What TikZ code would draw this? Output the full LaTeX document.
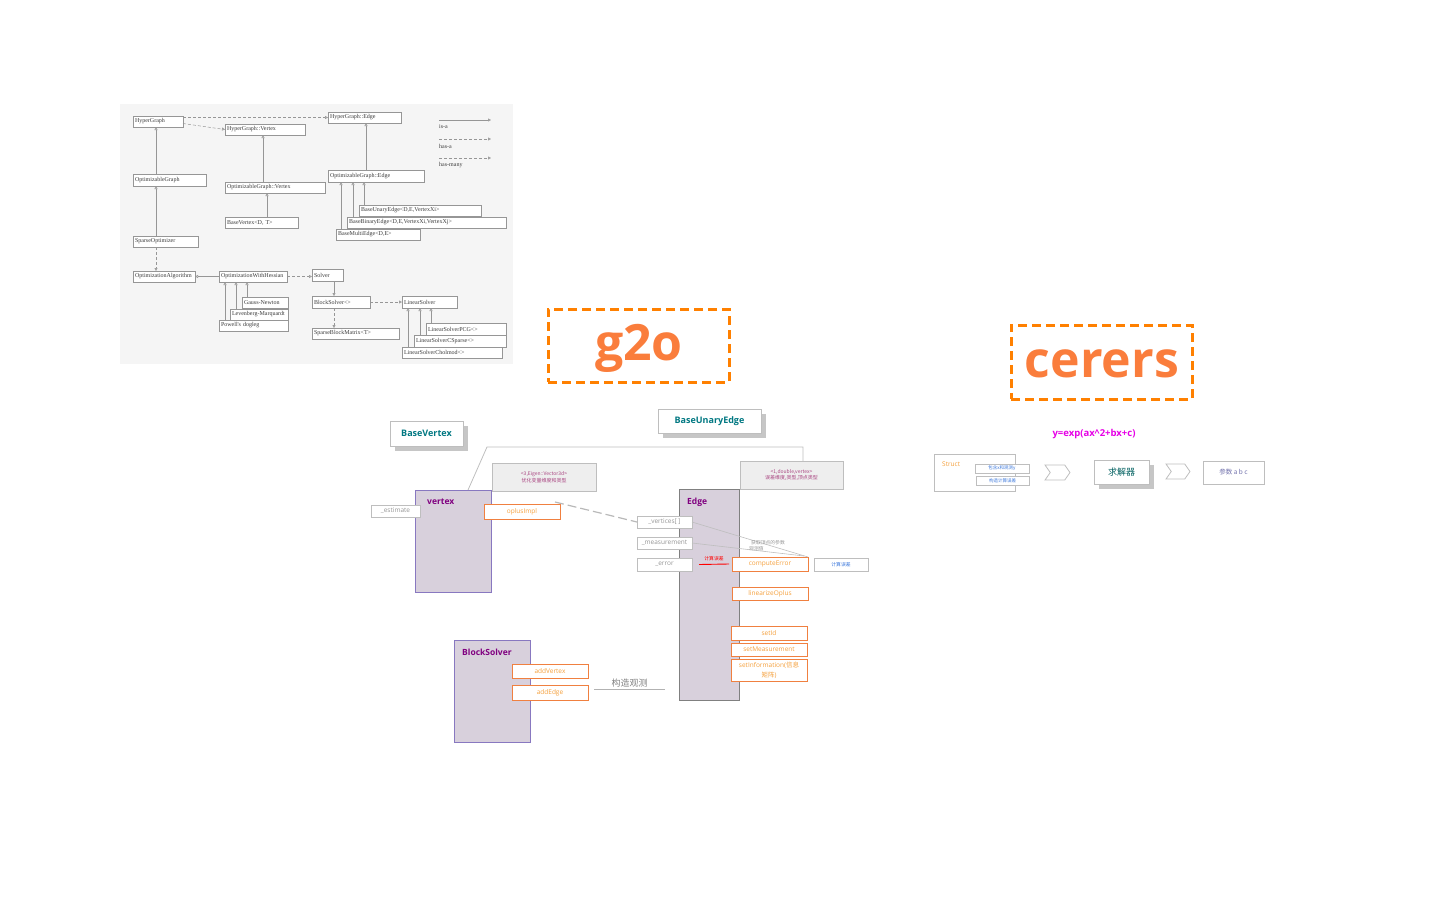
\documentclass[tikz,border=0pt]{standalone}
\usepackage{fontspec}
\setmainfont{Open Sans}
\newfontfamily\cjk{Noto Sans CJK SC}
\newfontfamily\umlf{Liberation Serif}
\usetikzlibrary{arrows.meta,calc,shadows,shapes.symbols}
\definecolor{umlline}{RGB}{150,150,150}
\definecolor{umltext}{RGB}{60,60,60}
\definecolor{umlbg}{RGB}{245,245,245}
\definecolor{dashor}{RGB}{255,128,0}
\definecolor{bigtxt}{RGB}{250,125,60}
\definecolor{tealT}{RGB}{0,120,130}
\definecolor{purpT}{RGB}{128,0,128}
\definecolor{methB}{RGB}{240,128,64}
\definecolor{methT}{RGB}{245,160,60}
\definecolor{clsF}{RGB}{216,208,220}
\definecolor{clsB}{RGB}{136,120,192}
\definecolor{attrT}{RGB}{150,150,150}
\definecolor{attrB}{RGB}{190,190,190}
\definecolor{noteF}{RGB}{238,238,238}
\definecolor{noteT}{RGB}{170,70,130}
\definecolor{magT}{RGB}{230,0,230}
\definecolor{blueT}{RGB}{60,120,220}
\definecolor{parT}{RGB}{110,110,170}
\definecolor{solT}{RGB}{0,96,96}
\newcommand\mkbox[7]{\pgfmathsetmacro\mybw{#5-#3}\pgfmathsetmacro\mybh{#6-#4}%
  \node[#1,minimum width=\mybw pt,minimum height=\mybh pt,anchor=north west,outer sep=0pt] (#2) at (#3,#4) {#7};}
\newcommand\mkuml[6]{\pgfmathsetmacro\mybw{#4-#2-4}\pgfmathsetmacro\mybh{#5-#3}%
  \node[uml,text width=\mybw pt,minimum height=\mybh pt,inner sep=2pt,align=left,anchor=north west,outer sep=0pt] (#1) at (#2,#3) {#6};}
\begin{document}
\begin{tikzpicture}[x=1pt,y=-1pt,
  uml/.style={draw=umlline,fill=white,font=\umlf\fontsize{6}{6.5}\selectfont,text=umltext},
  isa/.style={draw=umlline,line width=0.5pt,-{Triangle[open,length=3pt,width=3pt]}},
  hasa/.style={isa,densely dashed},
  bigbox/.style={draw=dashor,line width=3pt,dash pattern=on 9pt off 5pt},
  bigtext/.style={text=bigtxt,font=\bfseries\fontsize{50}{52}\selectfont},
  shbox/.style={draw=attrB,fill=white,line width=0.8pt,text=tealT,font=\bfseries\fontsize{9}{10}\selectfont,
    drop shadow={shadow xshift=4.5pt,shadow yshift=-4.5pt,fill=gray!45,opacity=1}},
  cls/.style={fill=clsF,draw=clsB,line width=0.8pt},
  clsT/.style={text=purpT,font=\bfseries\fontsize{8.5}{10}\selectfont,inner sep=0pt},
  attr/.style={draw=attrB,fill=white,line width=0.6pt,text=attrT,font=\fontsize{6.5}{7}\selectfont,inner sep=1pt},
  meth/.style={draw=methB,fill=white,line width=0.9pt,text=methT,font=\fontsize{6.5}{7}\selectfont,inner sep=1pt},
  note/.style={draw=attrB,fill=noteF,line width=0.8pt,text=noteT,font=\cjk\fontsize{5}{6.5}\selectfont,align=center,inner sep=1pt},
  tiny/.style={font=\cjk\fontsize{4.8}{6}\selectfont,inner sep=0pt},
  chev/.style={draw=attrB,line width=0.8pt,fill=white,signal,signal from=west,signal to=east,signal pointer angle=110,inner sep=0pt},
  thin/.style={draw=attrB,line width=0.6pt}
]
\useasboundingbox (0,0) rectangle (1452,924);
% ================= UML reference picture =================
\fill[umlbg] (120,104) rectangle (513,364);
\mkuml{hg}{133}{116}{183}{127}{HyperGraph}
\mkuml{hgv}{225}{124}{305}{135}{HyperGraph::Vertex}
\mkuml{hge}{328}{112}{401}{123}{HyperGraph::Edge}
\mkuml{og}{133}{174}{206}{186}{OptimizableGraph}
\mkuml{ogv}{225}{182}{325}{193}{OptimizableGraph::Vertex}
\mkuml{oge}{328}{170}{424}{182}{OptimizableGraph::Edge}
\mkuml{bv}{225}{217}{298}{228}{BaseVertex<D, T>}
\mkuml{bue}{359}{205}{481}{216}{BaseUnaryEdge<D,E,VertexXi>}
\mkuml{bbe}{347}{217}{506}{228}{BaseBinaryEdge<D,E,VertexXi,VertexXj>}
\mkuml{bme}{336}{229}{420}{240}{BaseMultiEdge<D,E>}
\mkuml{so}{133}{236}{198}{247}{SparseOptimizer}
\mkuml{oa}{133}{271}{195}{282}{OptimizationAlgorithm}
\mkuml{owh}{219}{271}{287}{282}{OptimizationWithHessian}
\mkuml{pd}{219}{320}{288}{331}{Powell's dogleg}
\mkuml{lm}{230}{309}{288}{320}{Levenberg-Marquardt}
\mkuml{gn}{242}{297}{288}{308}{Gauss-Newton}
\mkuml{solver}{312}{269}{343}{281}{Solver}
\mkuml{bs}{312}{296}{370}{308}{BlockSolver<>}
\mkuml{sbm}{312}{328}{399}{339}{SparseBlockMatrix<T>}
\mkuml{ls}{402}{296}{457}{308}{LinearSolver}
\mkuml{chol}{402}{347}{502}{358}{LinearSolverCholmod<>}
\mkuml{csp}{414}{335}{506}{347}{LinearSolverCSparse<>}
\mkuml{pcg}{426}{323}{506}{335}{LinearSolverPCG<>}
% legend
\coordinate (l1a) at (439,120); \coordinate (l1b) at (491,120);
\coordinate (l2a) at (439,139); \coordinate (l2b) at (491,139);
\coordinate (l3a) at (439,158); \coordinate (l3b) at (491,158);
\draw[isa] (l1a) -- (l1b);
\draw[hasa] (l2a) -- (l2b);
\draw[hasa] (l3a) -- (l3b);
\node[font=\umlf\fontsize{6}{6.5}\selectfont,text=umltext,anchor=west,inner sep=0pt] (lg1) at (439,127) {is-a};
\node[font=\umlf\fontsize{6}{6.5}\selectfont,text=umltext,anchor=west,inner sep=0pt] (lg2) at (439,146) {has-a};
\node[font=\umlf\fontsize{6}{6.5}\selectfont,text=umltext,anchor=west,inner sep=0pt] (lg3) at (439,165) {has-many};
% uml arrows
\draw[isa] ($(og.north west)+(23,0)$) -- ($(hg.south west)+(23,0)$);
\draw[isa] ($(so.north west)+(23,0)$) -- ($(og.south west)+(23,0)$);
\draw[hasa] ($(so.south west)+(23,0)$) -- ($(oa.north west)+(23,0)$);
\draw[hasa] ($(hg.east)+(0,2)$) -- (hgv.west);
\draw[hasa] (hg.east |- hge.west) -- (hge.west);
\draw[isa] ($(ogv.north west)+(38,0)$) -- ($(hgv.south west)+(38,0)$);
\draw[isa] ($(bv.north west)+(42,0)$) -- ($(ogv.south west)+(42,0)$);
\draw[isa] ($(oge.north west)+(38,0)$) -- ($(hge.south west)+(38,0)$);
\draw[isa] ($(bue.north west)+(5,0)$) -- ($(oge.south west)+(36,0)$);
\draw[isa] ($(bbe.north west)+(6,0)$) -- ($(oge.south west)+(25,0)$);
\draw[isa] ($(bme.north west)+(5,0)$) -- ($(oge.south west)+(13,0)$);
\draw[isa] (owh.west) -- (oa.east);
\draw[isa] ($(gn.north west)+(5,0)$) -- ($(owh.south west)+(28,0)$);
\draw[isa] ($(lm.north west)+(6,0)$) -- ($(owh.south west)+(17,0)$);
\draw[isa] ($(pd.north west)+(6,0)$) -- ($(owh.south west)+(6,0)$);
\draw[hasa] (owh.east) -- (owh.east -| solver.west);
\draw[isa] ($(solver.south west)+(22,0)$) -- ($(bs.north west)+(22,0)$);
\draw[hasa] ($(bs.south west)+(22,0)$) -- ($(sbm.north west)+(22,0)$);
\draw[hasa] (bs.east) -- (ls.west);
\draw[isa] ($(pcg.north west)+(5,0)$) -- ($(ls.south west)+(29,0)$);
\draw[isa] ($(csp.north west)+(6,0)$) -- ($(ls.south west)+(18,0)$);
\draw[isa] ($(chol.north west)+(6,0)$) -- ($(ls.south west)+(6,0)$);
% ================= titles =================
\mkbox{bigbox}{g2obox}{548}{309}{729}{382}{}
\node[bigtext] (g2o) at (639,348) {g2o};
\mkbox{bigbox}{cerbox}{1011}{325}{1192}{399}{}
\node[bigtext] (cerers) at (1102,364) {cerers};
% ================= g2o diagram =================
\mkbox{shbox}{basev}{390}{421}{463}{446}{BaseVertex}
\mkbox{shbox}{baseue}{658}{409}{761}{433}{BaseUnaryEdge}
\mkbox{note}{gv}{492}{463}{596}{491}{<3,Eigen::Vector3d>\\优化变量维度和类型}
\mkbox{note}{ge}{740}{461}{843}{489}{<1,double,vertex>\\误差维度,类型,顶点类型}
\mkbox{cls}{vtx}{415}{490}{491}{592}{}
\node[clsT,anchor=west] (vtxT) at (427,502) {vertex};
\coordinate (bend1) at (487,447);
\coordinate (bend2) at (803,447);
\draw[thin,line width=0.8pt] ($(vtx.north west)+(53,0)$) -- (bend1) -- (bend2) -- ($(ge.north west)+(63,0)$);
\mkbox{attr}{est}{371}{505}{420}{517}{\_estimate}
\mkbox{meth}{oplus}{484}{504}{560}{519}{oplusImpl}
\mkbox{cls,draw=gray}{edge}{679}{489}{739}{700}{}
\node[clsT,anchor=west] (edgeT) at (687,502) {Edge};
\mkbox{attr}{verts}{637}{516}{692}{528}{\_vertices[ ]}
\mkbox{attr}{meas}{637}{537}{692}{549}{\_measurement}
\mkbox{attr}{err}{637}{558}{692}{571}{\_error}
\draw[draw=gray!55,line width=1.2pt,dash pattern=on 9pt off 4pt] ($(oplus.north east)+(-5,-2)$) -- (verts.west);
\mkbox{meth}{ce}{732}{557}{808}{571}{computeError}
\mkbox{attr,text=blueT,font=\cjk\fontsize{4.8}{6}\selectfont}{ceR}{814}{558}{868}{571}{计算误差}
\draw[red,line width=0.9pt] ($(err.east)+(7,0)$) -- node[tiny,text=red,above=2.5pt] (errlbl) {计算误差} ($(ce.west)+(-3,0)$);
\draw[thin] (verts.east) -- (ce.north east);
\draw[thin] (meas.east) -- ($(ce.north east)+(-4,-1)$);
\node[tiny,text=attrT,align=left,anchor=west] (getlbl) at (749,546) {\hspace*{2pt}获取顶点的参数\\观测值};
\mkbox{meth}{lin}{732}{587}{808}{600}{linearizeOplus}
\mkbox{meth}{setid}{731}{626}{807}{640}{setId}
\mkbox{meth}{setm}{731}{643}{807}{656}{setMeasurement}
\mkbox{meth,align=center,font=\fontsize{6.5}{9.5}\selectfont}{setinfo}{731}{659}{807}{681}{setInformation({\cjk 信息}\\{\cjk 矩阵})}
\mkbox{cls}{bsolv}{454}{640}{530}{742}{}
\node[clsT,anchor=west] (bsolvT) at (462,652) {BlockSolver};
\mkbox{meth}{addv}{512}{664}{588}{678}{addVertex}
\mkbox{meth}{adde}{512}{685}{588}{700}{addEdge}
\coordinate (obsEnd) at (665,689);
\draw[draw=gray!60,line width=0.8pt] ($(adde.east)+(6,-3.5)$) -- node[above=1pt,inner sep=0pt,text=gray,font=\cjk\fontsize{9}{10}\selectfont] (obslbl) {构造观测} (obsEnd);
% ================= ceres diagram =================
\node[text=magT,font=\bfseries\fontsize{9.5}{11}\selectfont] (formula) at (1094,434) {y=exp(ax\^{}2+bx+c)};
\mkbox{attr}{struct}{934}{454}{1015}{491}{}
\node[inner sep=0pt,text=methT,font=\fontsize{6.5}{7}\selectfont,anchor=west] (structT) at (942,464) {Struct};
\mkbox{attr,text=blueT,font=\cjk\fontsize{4.5}{5}\selectfont}{sb1}{975}{464}{1029}{473}{包含x和观测y}
\mkbox{attr,text=blueT,font=\cjk\fontsize{4.5}{5}\selectfont}{sb2}{976}{476}{1029}{485}{构造计算误差}
\mkbox{chev}{ch1}{1045}{465}{1070}{480}{}
\mkbox{shbox,text=solT,font=\cjk\fontsize{9}{10}\selectfont}{solvbox}{1094}{460}{1149}{484}{求解器}
\mkbox{chev}{ch2}{1166}{464}{1190}{479}{}
\mkbox{attr,text=parT,font=\cjk\fontsize{6.5}{7}\selectfont}{params}{1203}{461}{1264}{484}{参数 a b c}
\end{tikzpicture}
\end{document}
